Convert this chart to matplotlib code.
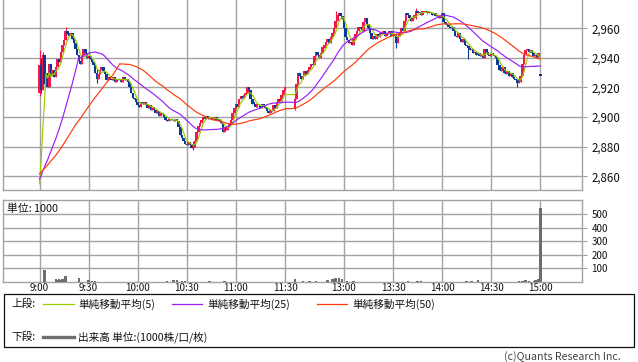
import matplotlib
matplotlib.use("Agg")
import matplotlib.pyplot as plt
from matplotlib.lines import Line2D
from matplotlib.patches import Rectangle
import numpy as np

plt.rcParams["font.family"] = ["Noto Sans CJK JP", "DejaVu Sans"]

# ---------------- data ----------------
# previous session's last 49 one-minute closes (feed the moving averages)
prev_close = [2868, 2866, 2867, 2865, 2864, 2866, 2863, 2865, 2867, 2866,
              2864, 2863, 2865, 2866, 2864, 2865, 2867, 2866, 2864, 2865,
              2863, 2864, 2866, 2865, 2864,
              2862, 2861, 2860, 2862, 2860, 2859, 2861, 2860, 2858, 2859,
              2860, 2858, 2857, 2859, 2858, 2857, 2858, 2856, 2857, 2856,
              2840, 2836, 2833, 2830]

# morning session 9:00 - 11:30, one-minute closes
am_open = 2916
am_close = [2935, 2918, 2942, 2922, 2930, 2920, 2936, 2928, 2932, 2927,
            2934, 2939, 2937, 2944, 2949, 2952, 2958, 2956, 2955, 2957,
            2953, 2950, 2946, 2942, 2938, 2936, 2942, 2946, 2943, 2940,
            2941, 2939, 2937, 2935, 2930, 2926, 2929, 2932, 2934, 2931,
            2929, 2925, 2927, 2926, 2925, 2927, 2924, 2926, 2925, 2926,
            2924, 2927, 2925, 2926, 2924, 2920, 2916, 2913, 2912, 2910,
            2908, 2907, 2910, 2909, 2910, 2908, 2906, 2908, 2905, 2907,
            2905, 2903, 2904, 2901, 2903, 2902, 2900, 2898, 2897, 2899,
            2898, 2898, 2897, 2899, 2897, 2893, 2888, 2886, 2884, 2882,
            2881, 2883, 2882, 2879, 2880, 2884, 2890, 2894, 2896, 2898,
            2900, 2899, 2901, 2899, 2900, 2899, 2898, 2900, 2898, 2899,
            2897, 2896, 2890, 2893, 2891, 2894, 2896, 2898, 2903, 2906,
            2909, 2907, 2912, 2914, 2913, 2915, 2916, 2920, 2918, 2912,
            2909, 2909, 2907, 2909, 2908, 2906, 2909, 2907, 2906, 2904,
            2903, 2905, 2904, 2908, 2906, 2910, 2912, 2911, 2915, 2918,
            2920]

# afternoon session 12:30 - 15:00, one-minute closes
pm_open = 2906
pm_close = [2912, 2922, 2930, 2928, 2926, 2928, 2931, 2929, 2932, 2934,
            2936, 2935, 2941, 2944, 2942, 2940, 2943, 2947, 2949, 2951,
            2953, 2950, 2954, 2957, 2960, 2965, 2969, 2970, 2968, 2966,
            2960, 2954, 2952, 2950, 2951, 2949, 2953, 2956, 2958, 2961,
            2960, 2958, 2964, 2967, 2963, 2960, 2957, 2953, 2955, 2953,
            2956, 2954, 2957, 2956, 2958, 2955, 2957, 2956, 2958, 2955,
            2956, 2955, 2950, 2955, 2957, 2960, 2958, 2965, 2970, 2969,
            2967, 2965, 2967, 2969, 2972, 2970, 2971, 2969, 2972, 2971,
            2972, 2970, 2971, 2970, 2969, 2970, 2968, 2969, 2967, 2968,
            2970, 2964, 2963, 2962, 2961, 2960, 2961, 2958, 2955, 2954,
            2957, 2953, 2951, 2953, 2949, 2948, 2947, 2945, 2946, 2943,
            2944, 2942, 2943, 2941, 2942, 2940, 2946, 2944, 2942, 2941,
            2943, 2942, 2941, 2940, 2935, 2932, 2931, 2934, 2930, 2929,
            2931, 2928, 2930, 2927, 2926, 2925, 2923, 2924, 2928, 2936,
            2942, 2945, 2946, 2944, 2945, 2943, 2941, 2942, 2940, 2943,
            2928]

# bars whose open differs from the previous close (time, open)
gap_open_times = ["15:00"]
gap_open_values = [2928]

# visible wicks (time, high, low)
wick_times = ["9:00", "9:01", "9:02", "9:16", "9:35", "10:34", "12:30",
              "12:55", "13:32", "13:44", "14:16", "14:46"]
wick_high = [2945, 2940, 2944, 2961, 2933, 2884, 2914,
             2972, 2957, 2974, 2947, 2926]
wick_low = [2914, 2916, 2918, 2955, 2923, 2878, 2905,
            2960, 2947, 2966, 2939, 2920]

# volume (unit: 1000)
vol_times = ["9:03", "9:10", "9:11", "9:12", "9:13", "9:14", "9:16", "9:24",
             "9:30", "9:32", "9:34", "10:18", "10:22", "10:24", "10:27",
             "10:29", "10:44", "10:53", "12:30", "12:35", "12:39", "12:43",
             "12:50", "12:53", "12:55", "12:57", "12:59", "13:02", "13:06",
             "13:39", "13:45", "13:47", "14:15", "14:18", "14:22", "14:47",
             "14:49", "14:51", "14:53", "14:56", "14:57", "14:59", "15:00"]
vol_values = [88, 22, 14, 18, 12, 20, 40, 25,
              8, 6, 5, 6, 8, 14, 7,
              6, 5, 6, 15, 6, 5, 7,
              14, 22, 26, 24, 16, 6, 5,
              6, 7, 5, 7, 5, 8, 6,
              7, 8, 6, 6, 10, 20, 544]

price_ticks = [2860, 2880, 2900, 2920, 2940, 2960]
vol_ticks = [100, 200, 300, 400, 500]
time_labels = ["9:00", "9:30", "10:00", "10:30", "11:00", "11:30",
               "13:00", "13:30", "14:00", "14:30", "15:00"]

legend_labels = ["単純移動平均(5)", "単純移動平均(25)", "単純移動平均(50)"]
ma_periods = [5, 25, 50]
ma_colors = ["#9ACD00", "#9B1EF5", "#FF3A0A"]

# ---------------- helpers ----------------
W, H = 638, 362
PM_START = 156          # slot of 12:30 on the compressed time axis
PX0, PXS = 39.5, 1.6366  # pixel of 9:00, pixels per slot


def slot(t):
    h, m = map(int, t.split(":"))
    mins = h * 60 + m
    if mins <= 11 * 60 + 30:
        return mins - 9 * 60
    return PM_START + mins - (12 * 60 + 30)


def fx(x):
    return x / W


def fy(y):
    return 1 - y / H


UP, DOWN = "#F2164B", "#0B3A94"
GRID = "#a3a3a3"
TXT = "#111111"

am_slots = list(range(len(am_close)))
pm_slots = [PM_START + i for i in range(len(pm_close))]
slots = np.array(am_slots + pm_slots, float)
closes = np.array(am_close + pm_close, float)
opens = np.array([am_open] + am_close[:-1] + [pm_open] + pm_close[:-1], float)
slot_index = {int(s): i for i, s in enumerate(slots)}
for t, o in zip(gap_open_times, gap_open_values):
    i = slot_index.get(slot(t))
    if i is not None:
        opens[i] = o
highs = np.maximum(opens, closes)
lows = np.minimum(opens, closes)
for t, hi, lo in zip(wick_times, wick_high, wick_low):
    i = slot_index.get(slot(t))
    if i is not None:
        highs[i] = max(highs[i], hi)
        lows[i] = min(lows[i], lo)

up = closes > opens
colors = np.where(up, UP, DOWN)

all_c = np.array(prev_close + am_close + pm_close, float)
P = len(prev_close)


def sma(a, n):
    out = np.full(len(a), np.nan)
    out[n - 1:] = np.convolve(a, np.ones(n) / n, mode="valid")
    return out

# ---------------- figure ----------------
fig = plt.figure(figsize=(W / 100, H / 100), dpi=100)
fig.patch.set_facecolor("white")

xl = ((3 - PX0) / PXS, (582.3 - PX0) / PXS)
tick_pos = [slot(t) for t in time_labels]

# price panel
ax = fig.add_axes([fx(3), fy(190), fx(582.3) - fx(3), fy(0) - fy(190)])
ax.set_xlim(*xl)
ax.set_ylim(2850.7, 2979.1)
ax.vlines(slots, lows, highs, colors=colors, linewidth=0.8, zorder=2)
body_h = np.maximum(np.abs(closes - opens), 1.0)
ax.bar(slots, body_h, bottom=np.minimum(opens, closes), width=1.55,
       color=colors, linewidth=0, antialiased=False, zorder=3)
for n, c in zip(ma_periods, ma_colors):
    ma = sma(all_c, n)[P:]
    ax.plot(slots, ma, color=c, linewidth=0.85, zorder=4)

ax.set_xticks(tick_pos)
ax.set_xticklabels([])
ax.tick_params(axis="x", length=0)
ax.set_yticks(price_ticks)
ax.set_yticklabels([f"{v:,}" for v in price_ticks])
ax.yaxis.tick_right()
ax.tick_params(axis="y", length=3.6, color=GRID, pad=3.4, labelsize=8.3,
               labelcolor=TXT)
ax.grid(True, color=GRID, linewidth=1.0)
ax.set_axisbelow(True)
for s in ["left", "bottom", "right"]:
    ax.spines[s].set_color(GRID)
    ax.spines[s].set_linewidth(1.0)
ax.spines["top"].set_visible(False)

# volume panel
ax2 = fig.add_axes([fx(3), fy(281.5), fx(582.3) - fx(3), fy(200) - fy(281.5)])
ax2.set_xlim(*xl)
ax2.set_ylim(0, 604)
ax2.bar([slot(t) for t in vol_times], vol_values, width=1.5, color="#6e6e6e",
        linewidth=0, antialiased=False, zorder=3)
ax2.set_xticks(tick_pos)
ax2.set_xticklabels(time_labels)
ax2.tick_params(axis="x", length=0, pad=1.2, labelsize=7.0, labelcolor=TXT)
ax2.set_yticks(vol_ticks)
ax2.yaxis.tick_right()
ax2.tick_params(axis="y", length=3.6, color=GRID, pad=3.0, labelsize=7.0,
                labelcolor=TXT)
ax2.grid(True, color=GRID, linewidth=1.0)
ax2.set_axisbelow(True)
for s in ax2.spines.values():
    s.set_color(GRID)
    s.set_linewidth(1.0)
fig.text(fx(7), fy(209), "単位: 1000", fontsize=7.8, va="center", ha="left",
         color=TXT)

# legend box
fig.patches.append(Rectangle((fx(3.5), fy(347)), (634 - 3.5) / W, (347 - 294) / H,
                             transform=fig.transFigure, fill=False,
                             edgecolor=TXT, linewidth=0.9))
row1, row2 = 304, 337
FS = 7.7
fig.text(fx(11), fy(row1), "上段:", fontsize=FS, va="center", ha="left", color=TXT)
line_x = [(43, 74), (172, 202), (317, 347)]
text_x = [78, 207, 352]
for (a, b), tx, lab, c in zip(line_x, text_x, legend_labels, ma_colors):
    fig.lines.append(Line2D([fx(a), fx(b)], [fy(row1), fy(row1)],
                            transform=fig.transFigure, color=c, linewidth=0.9))
    fig.text(fx(tx), fy(row1), lab, fontsize=FS, va="center", ha="left", color=TXT)
fig.text(fx(11), fy(row2), "下段:", fontsize=FS, va="center", ha="left", color=TXT)
fig.lines.append(Line2D([fx(43), fx(74)], [fy(row2), fy(row2)],
                        transform=fig.transFigure, color="#6e6e6e", linewidth=2.4))
fig.text(fx(78), fy(row2), "出来高 単位:(1000株/口/枚)", fontsize=FS,
         va="center", ha="left", color=TXT)

fig.text(fx(621), fy(357), "(c)Quants Research Inc.", fontsize=7.7, va="center",
         ha="right", color="#444444")

fig.savefig("out.png", dpi=100, facecolor="white")
